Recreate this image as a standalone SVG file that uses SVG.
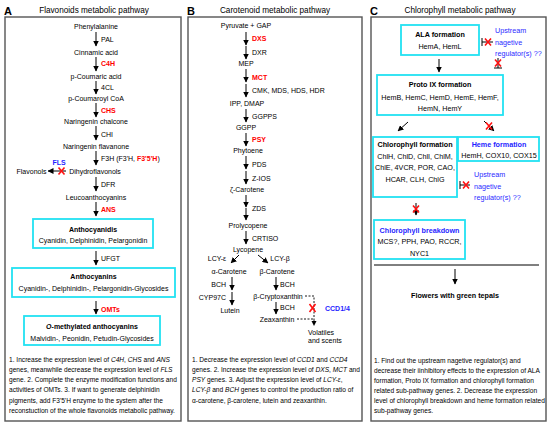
<svg xmlns="http://www.w3.org/2000/svg" width="550" height="426" viewBox="0 0 550 426">
<defs>
<marker id="ah" markerUnits="userSpaceOnUse" markerWidth="6" markerHeight="6" refX="5.5" refY="3" orient="auto"><path d="M0,0 L6,3 L0,6 z" fill="#000"/></marker>
<style>
text{font-family:"Liberation Sans",Arial,sans-serif;font-size:7px;fill:#000}
.t{font-size:8.2px;text-anchor:middle}
.L{font-size:11px;font-weight:bold}
.c{text-anchor:middle}
.b{font-weight:bold}
.r{fill:#ff0000;font-weight:bold}
.bl{fill:#1f1fff;font-weight:bold}
.u{fill:#2a2aff}
.n{font-size:6.6px}
.p{fill:#fff;stroke:#555;stroke-width:1.4}
.bx{fill:#fff;stroke:#22e2f2;stroke-width:1.8}
.ar{stroke:#000;stroke-width:1;fill:none;marker-end:url(#ah)}
.x{stroke:#ff1010;stroke-width:1.6;fill:none}
.ln{stroke:#000;stroke-width:1;fill:none}
.d{stroke:#000;stroke-width:0.9;fill:none;stroke-dasharray:2,1.5}
.C7{font-size:7.2px}
</style>
</defs>
<rect width="550" height="426" fill="#fff"/>

<!-- Panel frames -->
<g id="panelA">
<rect class="p" x="5" y="17" width="176" height="404"/>
<text class="L" x="4" y="15">A</text>
<text class="t" x="94" y="13">Flavonoids metabolic pathway</text>
</g>
<g id="panelB">
<rect class="p" x="188" y="17" width="174" height="404"/>
<text class="L" x="187" y="15">B</text>
<text class="t" x="275" y="13">Carotenoid metabolic pathway</text>
</g>
<g id="panelC">
<rect class="p" x="371" y="17" width="175" height="404"/>
<text class="L" x="370" y="15">C</text>
<text class="t" x="460" y="13">Chlorophyll metabolic pathway</text>
</g>

<!-- Connectors -->
<g id="connectors">
<!-- A -->
<line class="ar" x1="96" y1="32" x2="96" y2="46"/>
<line class="ar" x1="96" y1="57" x2="96" y2="71"/>
<line class="ar" x1="96" y1="81" x2="96" y2="94"/>
<line class="ar" x1="96" y1="103" x2="96" y2="117"/>
<line class="ar" x1="96" y1="126" x2="96" y2="140"/>
<line class="ar" x1="96" y1="151" x2="96" y2="165"/>
<line class="ar" x1="66" y1="171" x2="48" y2="171"/>
<line class="ar" x1="96" y1="177" x2="96" y2="191"/>
<line class="ar" x1="96" y1="202" x2="96" y2="216"/>
<line class="ar" x1="96" y1="251" x2="96" y2="265"/>
<line class="ar" x1="96" y1="301" x2="96" y2="314"/>
<!-- B -->
<line class="ar" x1="246" y1="32" x2="246" y2="45"/>
<line class="ar" x1="246" y1="46" x2="246" y2="59"/>
<line class="ar" x1="246" y1="69" x2="246" y2="82"/>
<line class="ar" x1="246" y1="84" x2="246" y2="97"/>
<line class="ar" x1="246" y1="109" x2="246" y2="122"/>
<line class="ar" x1="246" y1="133" x2="246" y2="146"/>
<line class="ar" x1="246" y1="156" x2="246" y2="169"/>
<line class="ar" x1="246" y1="171" x2="246" y2="184"/>
<line class="ar" x1="246" y1="195" x2="246" y2="207"/>
<line class="ar" x1="246" y1="208" x2="246" y2="220"/>
<line class="ar" x1="246" y1="231" x2="246" y2="244"/>
<line class="ar" x1="239" y1="255" x2="231" y2="263"/>
<line class="ar" x1="258" y1="255" x2="268" y2="263"/>
<line class="ar" x1="232" y1="277" x2="232" y2="290"/>
<line class="ar" x1="232" y1="292" x2="232" y2="305"/>
<line class="ar" x1="276" y1="277" x2="276" y2="290"/>
<line class="ar" x1="276" y1="302" x2="276" y2="314"/>
<polyline class="d" points="305,296 314,296 314,319"/>
<line class="d" x1="297" y1="319" x2="314" y2="319"/>
<line class="d" x1="314" y1="319" x2="314" y2="323"/>
<path d="M311.5,321 L316.5,321 L314,326 z" fill="#000"/>
<!-- C -->
<line class="ar" x1="439" y1="59" x2="439" y2="72"/>
<line class="ar" x1="408" y1="122" x2="398" y2="131"/>
<line class="ar" x1="484" y1="121" x2="494" y2="131"/>
<line class="ar" x1="416" y1="203" x2="416" y2="215"/>
<line class="ar" x1="455" y1="269" x2="455" y2="284"/>
<line class="ln" x1="374" y1="265" x2="539" y2="265" stroke="#555"/>
<!-- inhibition bars -->
<line class="ln" x1="482" y1="38" x2="482" y2="46"/>
<line class="ln" x1="482" y1="42" x2="493" y2="42"/>
<line class="ln" x1="498" y1="58" x2="498" y2="68"/>
<line class="ln" x1="494" y1="68" x2="502" y2="68"/>
<line class="ln" x1="460" y1="181" x2="460" y2="189"/>
<line class="ln" x1="460" y1="185" x2="470" y2="185"/>
<!-- red crosses -->
<path class="x" d="M58.5,167.5 L64.5,174.5 M64.5,167.5 L58.5,174.5"/>
<path class="x" d="M309.5,304 L315.5,312 M315.5,304 L309.5,312"/>
<path class="x" d="M485,38.5 L491,45.5 M491,38.5 L485,45.5"/>
<path class="x" d="M495,59.5 L501,66.5 M501,59.5 L495,66.5"/>
<path class="x" d="M486,122.5 L492,129.5 M492,122.5 L486,129.5"/>
<path class="x" d="M463,181.5 L469,188.5 M469,181.5 L463,188.5"/>
<path class="x" d="M413,205.5 L419,212.5 M419,205.5 L413,212.5"/>
</g>

<!-- Panel A nodes -->
<g id="a-phe"><text class="c" x="96" y="28.5">Phenylalanine</text></g>
<g id="a-pal"><text x="101" y="41.5">PAL</text></g>
<g id="a-cin"><text class="c" x="96" y="54.5">Cinnamic acid</text></g>
<g id="a-c4h"><text class="r" x="101" y="65.5">C4H</text></g>
<g id="a-pcou"><text class="c" x="96" y="78.5">p-Coumaric acid</text></g>
<g id="a-4cl"><text x="101" y="89.5">4CL</text></g>
<g id="a-pcoa"><text class="c" x="96" y="100.5">p-Coumaroyl CoA</text></g>
<g id="a-chs"><text class="r" x="101" y="112.5">CHS</text></g>
<g id="a-nch"><text class="c" x="96" y="123.5">Naringenin chalcone</text></g>
<g id="a-chi"><text x="101" y="136.5">CHI</text></g>
<g id="a-nfl"><text class="c" x="96" y="148.5">Naringenin flavanone</text></g>
<g id="a-f3h"><text x="101" y="160.5">F3H (F3'H, <tspan class="r">F3'5'H</tspan>)</text></g>
<g id="a-fls"><text class="bl c" x="59" y="165">FLS</text></g>
<g id="a-flavonols"><text class="c" x="31.5" y="173.5">Flavonols</text></g>
<g id="a-dhf"><text class="c" x="95" y="173.5">Dihydroflavonols</text></g>
<g id="a-dfr"><text x="101" y="186.5">DFR</text></g>
<g id="a-leu"><text class="c" x="96" y="199.5">Leucoanthocyanins</text></g>
<g id="a-ans"><text class="r" x="101" y="211.5">ANS</text></g>
<g id="a-anthocyanidis">
<rect class="bx" x="33" y="219" width="120" height="29"/>
<text class="c b" x="93" y="232">Anthocyanidis</text>
<text class="c" x="93" y="242.5">Cyanidin, Delphinidin, Pelargonidin</text>
</g>
<g id="a-ufgt"><text x="101" y="260.5">UFGT</text></g>
<g id="a-anthocyanins">
<rect class="bx" x="12" y="268" width="163" height="29"/>
<text class="c b" x="93.5" y="279">Anthocyanins</text>
<text class="c" x="93.5" y="290.5">Cyanidin-, Delphinidin-, Pelargonidin-Glycosides</text>
</g>
<g id="a-omts"><text class="r" x="101" y="311.5">OMTs</text></g>
<g id="a-omethyl">
<rect class="bx" x="24" y="316" width="136" height="29"/>
<text class="c b" x="92" y="328.5"><tspan font-style="italic">O</tspan>-methylated anthocyanins</text>
<text class="c" x="92" y="340.5">Malvidin-, Peonidin, Petudin-Glycosides</text>
</g>
<g id="a-notes">
<text class="n" x="9" y="361.5">1. Increase the expression level of <tspan font-style="italic">C4H</tspan>, <tspan font-style="italic">CHS</tspan> and <tspan font-style="italic">ANS</tspan></text>
<text class="n" x="9" y="371.8">genes, meanwhile decrease the expression level of <tspan font-style="italic">FLS</tspan></text>
<text class="n" x="9" y="382.1">gene. 2. Complete the enzyme modification functions and</text>
<text class="n" x="9" y="392.4">activities of OMTs. 3. If want to generate delphinidin</text>
<text class="n" x="9" y="402.7">pigments, add F3'5'H enzyme to the system after the</text>
<text class="n" x="9" y="413">reconstuction of the whole flavonoids metabolic pathway.</text>
</g>

<!-- Panel B nodes -->
<g id="b-pyr"><text class="c" x="246" y="27.5">Pyruvate + GAP</text></g>
<g id="b-dxs"><text class="r" x="252" y="40.5">DXS</text></g>
<g id="b-dxr"><text x="252" y="54.5">DXR</text></g>
<g id="b-mep"><text class="c" x="246" y="65.5">MEP</text></g>
<g id="b-mct"><text class="r" x="252" y="79.5">MCT</text></g>
<g id="b-cmk"><text x="252" y="92.5">CMK, MDS, HDS, HDR</text></g>
<g id="b-ipp"><text class="c" x="247" y="105.5">IPP, DMAP</text></g>
<g id="b-ggpps"><text x="252" y="118.5">GGPPS</text></g>
<g id="b-ggpp"><text class="c" x="246" y="129.5">GGPP</text></g>
<g id="b-psy"><text class="r" x="252" y="141.5">PSY</text></g>
<g id="b-phy"><text class="c" x="248" y="152.5">Phytoene</text></g>
<g id="b-pds"><text x="252" y="166.5">PDS</text></g>
<g id="b-zios"><text x="252" y="180.5">Z-IOS</text></g>
<g id="b-zcar"><text class="c" x="247" y="191.5">ζ-Carotene</text></g>
<g id="b-zds"><text x="252" y="210.5">ZDS</text></g>
<g id="b-prol"><text class="c" x="248" y="227.5">Prolycopene</text></g>
<g id="b-crt"><text x="252" y="240.5">CRTISO</text></g>
<g id="b-lyc"><text class="c" x="248" y="251.5">Lycopene</text></g>
<g id="b-lcye"><text class="c" x="217" y="260.5">LCY-ε</text></g>
<g id="b-lcyb"><text class="c" x="280" y="260.5">LCY-β</text></g>
<g id="b-acar"><text class="c" x="229" y="273.5">α-Carotene</text></g>
<g id="b-bcar"><text class="c" x="277" y="273.5">β-Carotene</text></g>
<g id="b-bch1"><text x="226" y="286.5" text-anchor="end">BCH</text></g>
<g id="b-cyp"><text x="226" y="299.5" text-anchor="end">CYP97C</text></g>
<g id="b-lut"><text class="c" x="230" y="312.5">Lutein</text></g>
<g id="b-bch2"><text x="280" y="286.5">BCH</text></g>
<g id="b-bcry"><text class="c" x="278" y="298.5">β-Cryptoxanthin</text></g>
<g id="b-bch3"><text x="280" y="309.5">BCH</text></g>
<g id="b-zea"><text class="c" x="277" y="321.5">Zeaxanthin</text></g>
<g id="b-ccd"><text class="bl" x="325" y="310.5">CCD1/4</text></g>
<g id="b-vol"><text x="308" y="334.5">Volatiles</text><text x="308" y="342.5">and scents</text></g>
<g id="b-notes">
<text class="n" x="192" y="361.5">1. Decrease the expression level of <tspan font-style="italic">CCD1</tspan> and <tspan font-style="italic">CCD4</tspan></text>
<text class="n" x="192" y="371.8">genes. 2. Increase the expression level of <tspan font-style="italic">DXS</tspan>, <tspan font-style="italic">MCT</tspan> and</text>
<text class="n" x="192" y="382.1"><tspan font-style="italic">PSY</tspan> genes. 3. Adjust the expression level of <tspan font-style="italic">LCY-ε</tspan>,</text>
<text class="n" x="192" y="392.4"><tspan font-style="italic">LCY-β</tspan> and <tspan font-style="italic">BCH</tspan> genes to control the production ratio of</text>
<text class="n" x="192" y="402.7">α-carotene, β-carotene, lutein and zeaxanthin.</text>
</g>

<!-- Panel C nodes -->
<g id="c-ala">
<rect class="bx" x="401" y="25" width="78" height="30"/>
<text class="c b C7" x="440" y="36.5">ALA formation</text>
<text class="c C7" x="440" y="48.5">HemA, HemL</text>
</g>
<g id="c-reg1">
<text class="u C7" x="495" y="32.5">Upstream</text>
<text class="u C7" x="495" y="44.5">nagetive</text>
<text class="u C7" x="495" y="55.5">regulator(s) ??</text>
</g>
<g id="c-proto">
<rect class="bx" x="377" y="75" width="126" height="40"/>
<text class="c b C7" x="440" y="86.5">Proto IX formation</text>
<text class="c C7" x="440" y="99.5">HemB, HemC, HemD, HemE, HemF,</text>
<text class="c C7" x="440" y="110.5">HemN, HemY</text>
</g>
<g id="c-chl">
<rect class="bx" x="373" y="137" width="84" height="60"/>
<text class="c b C7" x="415" y="146.5">Chlorophyll formation</text>
<text class="c C7" x="415" y="158.5">ChlH, ChlD, ChlI, ChlM,</text>
<text class="c C7" x="415" y="169.5">ChlE, 4VCR, POR, CAO,</text>
<text class="c C7" x="415" y="181.5">HCAR, CLH, ChlG</text>
</g>
<g id="c-heme">
<rect class="bx" x="458" y="137" width="81" height="24"/>
<text class="c bl C7" x="499" y="146.5">Heme formation</text>
<text class="c C7" x="499" y="157.5">HemH, COX10, COX15</text>
</g>
<g id="c-reg2">
<text class="u C7" x="474" y="176.5">Upstream</text>
<text class="u C7" x="474" y="188.5">nagetive</text>
<text class="u C7" x="474" y="199.5">regulator(s) ??</text>
</g>
<g id="c-break">
<rect class="bx" x="374" y="220" width="91" height="39"/>
<text class="c bl C7" x="419.5" y="232.5">Chlorophyll breakdown</text>
<text class="c C7" x="419.5" y="243.5">MCS?, PPH, PAO, RCCR,</text>
<text class="c C7" x="419.5" y="255.5">NYC1</text>
</g>
<g id="c-flowers"><text class="c b C7" x="455" y="297.5">Flowers with green tepals</text></g>
<g id="c-notes">
<text class="n" x="374" y="362.5">1. Find out the upstream nagetive regulator(s) and</text>
<text class="n" x="374" y="372.5">decrease their iinhibitory effects to the expression of  ALA</text>
<text class="n" x="374" y="382.5">formation, Proto IX formation and chlorophyll formation</text>
<text class="n" x="374" y="392.5">related sub-pathway genes. 2. Decrease the expression</text>
<text class="n" x="374" y="402.5">level of chlorophyll breakdown and heme formation related</text>
<text class="n" x="374" y="412.5">sub-pathway genes.</text>
</g>
</svg>
